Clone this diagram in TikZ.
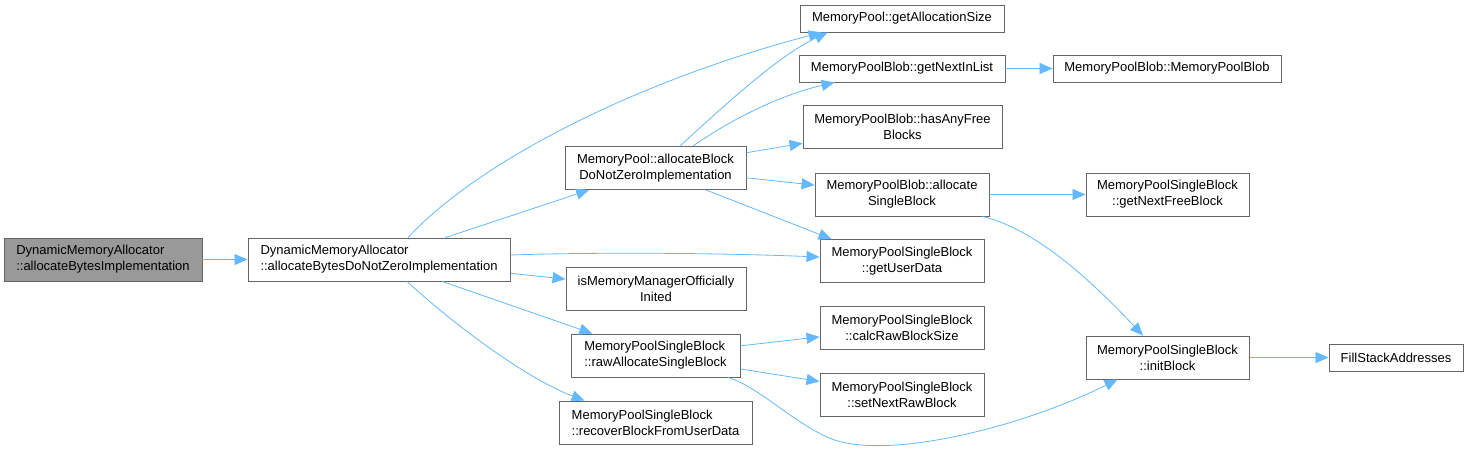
\documentclass[tikz,border=0pt]{standalone}
\usepackage{fontspec}
\setmainfont{Liberation Sans}
\usetikzlibrary{arrows.meta, positioning}
\definecolor{edgeblue}{HTML}{63B8FF}
\definecolor{boxline}{HTML}{666666}

\begin{document}
\begin{tikzpicture}[x=1pt,y=-1pt,
  every node/.style={font=\fontsize{13}{16}\selectfont},
  fn/.style={draw=boxline,fill=white,inner sep=0pt,line width=0.9pt,minimum height=43pt,align=center},
  fnone/.style={fn,minimum height=27pt},
  fnhl/.style={fn,fill=black!40},
  call/.style={draw=edgeblue,line width=0.8pt,-{Triangle[length=13pt,width=11pt]}}]
  \useasboundingbox (0,0) rectangle (1469,453);

  \node[fnhl,minimum width=198pt,align=left] (abi) at (103,259.5) {DynamicMemoryAllocator\\::allocateBytesImplementation};
  \node[fn,minimum width=262pt,align=left] (abdnz) at (379,259.5) {DynamicMemoryAllocator\\::allocateBytesDoNotZeroImplementation};

  \node[fn,minimum width=181pt] (mpabd) at (655.5,168) {MemoryPool::allocateBlock\\DoNotZeroImplementation};
  \node[fn,minimum width=180pt] (isinit) at (656,288.5) {isMemoryManagerOfficially\\Inited};
  \node[fn,minimum width=169pt,align=left] (rawasb) at (655.5,355.5) {MemoryPoolSingleBlock\\::rawAllocateSingleBlock};
  \node[fn,minimum width=193pt,align=left] (recover) at (655.5,422.5) {MemoryPoolSingleBlock\\::recoverBlockFromUserData};

  \node[fnone,minimum width=204pt] (getsize) at (902,18.5) {MemoryPool::getAllocationSize};
  \node[fnone,minimum width=206pt] (nextlist) at (902,68.5) {MemoryPoolBlob::getNextInList};
  \node[fn,minimum width=199pt] (hasfree) at (902.5,126.5) {MemoryPoolBlob::hasAnyFree\\Blocks};
  \node[fn,minimum width=174pt] (blobasb) at (902,194.5) {MemoryPoolBlob::allocate\\SingleBlock};
  \node[fn,minimum width=164pt] (userdata) at (902,261) {MemoryPoolSingleBlock\\::getUserData};
  \node[fn,minimum width=164pt] (calcsize) at (902,327.5) {MemoryPoolSingleBlock\\::calcRawBlockSize};
  \node[fn,minimum width=164pt] (setnext) at (902,394.5) {MemoryPoolSingleBlock\\::setNextRawBlock};

  \node[fnone,minimum width=228pt] (blobctor) at (1167,68.5) {MemoryPoolBlob::MemoryPoolBlob};
  \node[fn,minimum width=163pt] (nextfree) at (1167.5,194.5) {MemoryPoolSingleBlock\\::getNextFreeBlock};
  \node[fn,minimum width=163pt] (initblk) at (1167.5,357.5) {MemoryPoolSingleBlock\\::initBlock};
  \node[fnone,minimum width=134pt] (fillstack) at (1396,357.5) {FillStackAddresses};

  \foreach \a/\b in {abi/abdnz,abdnz/mpabd,abdnz/isinit,abdnz/rawasb,mpabd/hasfree,mpabd/blobasb,
      rawasb/calcsize,rawasb/setnext,blobasb/nextfree,nextlist/blobctor,initblk/fillstack}{
    \draw[call] (\a) -- (\b);
  }
  \draw[call] ([xshift=29pt]abdnz.north) .. controls (480,160) and (640,80) .. ([xshift=22pt]getsize.south west);
  \draw[call] ([yshift=4.5pt]abdnz.east) .. controls (600,252) and (720,253) .. ([yshift=4pt]userdata.west);
  \draw[call] ([xshift=28pt]abdnz.south) .. controls (460,330) and (530,380) .. ([xshift=26pt]recover.north west);
  \draw[call] ([xshift=24.5pt]mpabd.north) .. controls (730,100) and (780,55) .. ([xshift=28pt]getsize.south west);
  \draw[call] ([xshift=37.5pt]mpabd.north) .. controls (730,120) and (780,95) .. ([xshift=36pt]nextlist.south west);
  \draw[call] ([xshift=50.5pt]mpabd.south) -- ([xshift=12pt]userdata.north west);
  \draw[call] ([xshift=-12pt]rawasb.south east) .. controls (760,388) and (790,420) .. (827,437)
    .. controls (880,462) and (1018,429) .. ([xshift=32pt]initblk.south west);
  \draw[call] ([xshift=-7pt]blobasb.south east) .. controls (1040,230) and (1100,290) .. ([xshift=-24.5pt]initblk.north);
\end{tikzpicture}
\end{document}
